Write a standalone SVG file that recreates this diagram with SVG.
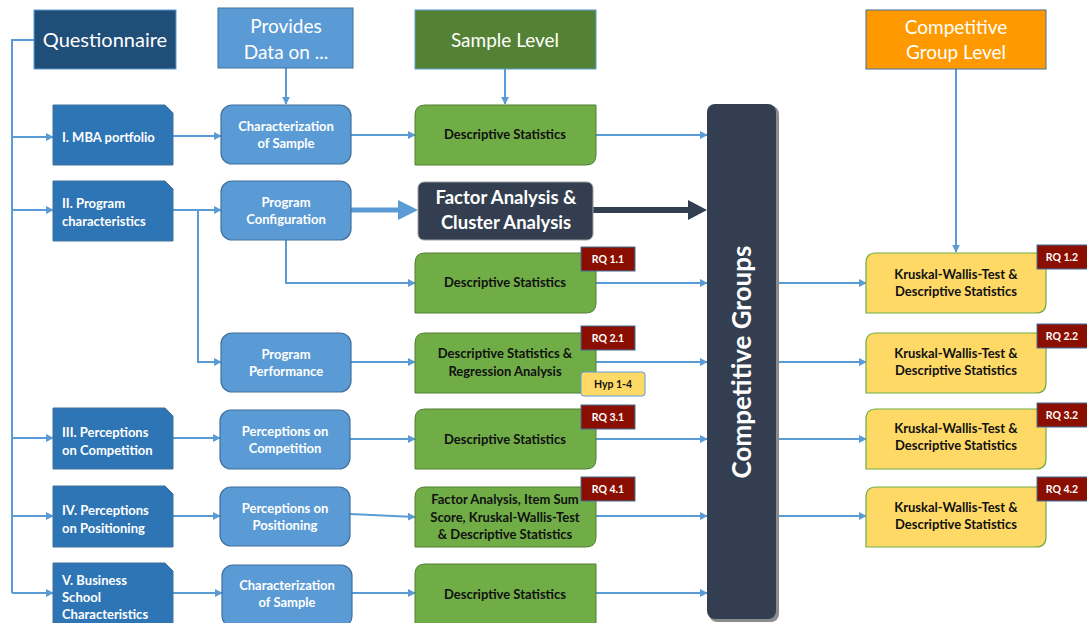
<svg xmlns="http://www.w3.org/2000/svg" width="1087" height="623" viewBox="0 0 1087 623">
  <style>
    .hdr { font-family: Lato, "Liberation Sans", sans-serif; font-size: 20px; fill: #ffffff; text-anchor: middle; }
    .q { fill: #2e75b6; stroke: #41719c; stroke-width: 1; }
    .qt { font-family: Lato, "Liberation Sans", sans-serif; font-size: 13px; font-weight: bold; fill: #ffffff; }
    .mid { fill: #5b9bd5; stroke: #41719c; stroke-width: 1.2; }
    .mt { font-family: Lato, "Liberation Sans", sans-serif; font-size: 13px; font-weight: bold; fill: #ffffff; text-anchor: middle; }
    .grn { fill: #70ad47; stroke: #507e32; stroke-width: 1; }
    .ylw { fill: #ffd966; stroke: #70ad47; stroke-width: 1.2; }
    .bt { font-family: Lato, "Liberation Sans", sans-serif; font-size: 13px; font-weight: bold; fill: #111111; text-anchor: middle; }
    .rq { fill: #8b0f00; stroke: #41719c; stroke-width: 1; }
    .rqt { font-family: Lato, "Liberation Sans", sans-serif; font-size: 10.5px; font-weight: bold; fill: #ffffff; text-anchor: middle; }
    .hyp { fill: #ffd966; stroke: #5b9bd5; stroke-width: 1; }
    .hypt { font-family: Lato, "Liberation Sans", sans-serif; font-size: 10.5px; font-weight: bold; fill: #111111; text-anchor: middle; }
    .ln { fill: none; stroke: #5b9bd5; stroke-width: 2; }
    .arr { fill: none; stroke: #5b9bd5; stroke-width: 2; marker-end: url(#ah); }
  </style>
  <defs>
    <marker id="ah" viewBox="0 0 10 10" refX="9" refY="5" markerWidth="4" markerHeight="4" orient="auto" markerUnits="strokeWidth">
      <path d="M0,0 L10,5 L0,10 z" fill="#5b9bd5"/>
    </marker>
  </defs>

  <rect width="1087" height="623" fill="#ffffff"/>

  <!-- connectors -->
  <g id="connectors">
    <!-- questionnaire trunk -->
    <path class="ln" d="M34,40 H12 V593"/>
    <path class="arr" d="M12,137 H53"/>
    <path class="arr" d="M12,210 H53"/>
    <path class="arr" d="M12,438 H53"/>
    <path class="arr" d="M12,516 H53"/>
    <path class="arr" d="M12,593 H53"/>
    <!-- questionnaire sections to data areas -->
    <path class="arr" d="M173,136 H221"/>
    <path class="arr" d="M173,210 H221"/>
    <path class="arr" d="M198,210 V362 H221"/>
    <path class="arr" d="M173,438 H220"/>
    <path class="arr" d="M173,516 H220"/>
    <path class="arr" d="M173,593 H222"/>
    <!-- header drop lines -->
    <path class="arr" d="M286,68 V104"/>
    <path class="arr" d="M505,69 V104"/>
    <path class="arr" d="M956,69 V252"/>
    <!-- data areas to analyses -->
    <path class="arr" d="M351,135 H415"/>
    <path class="arr" d="M286,240 V283 H415"/>
    <path class="arr" d="M351,362 H415"/>
    <path class="arr" d="M350,439 H415"/>
    <path class="arr" d="M350,514 L415,517"/>
    <path class="arr" d="M352,593 H415"/>
    <!-- thick arrow into factor/cluster analysis -->
    <path d="M351,210 H400" stroke="#5b9bd5" stroke-width="5" fill="none"/>
    <path d="M398,200 L418,210 L398,220 z" fill="#5b9bd5"/>
    <!-- analyses to competitive groups -->
    <path class="arr" d="M596,135 H707"/>
    <path class="arr" d="M596,283 H707"/>
    <path class="arr" d="M596,362 H707"/>
    <path class="arr" d="M596,439 H707"/>
    <path class="arr" d="M596,516 H707"/>
    <path class="arr" d="M596,593 H707"/>
    <!-- thick dark arrow from cluster analysis -->
    <path d="M593,210 H690" stroke="#333f50" stroke-width="6" fill="none"/>
    <path d="M688,200 L707,210 L688,220 z" fill="#333f50"/>
    <!-- competitive groups to group-level tests -->
    <path class="arr" d="M777,283 H866"/>
    <path class="arr" d="M777,362 H866"/>
    <path class="arr" d="M777,439 H866"/>
    <path class="arr" d="M777,516 H866"/>
  </g>

  <!-- column headers -->
  <g id="questionnaire">
    <rect x="34" y="10" width="142" height="59" fill="#1f4e79" stroke="#5b9bd5" stroke-width="1"/>
    <text class="hdr" x="105" y="47">Questionnaire</text>
  </g>
  <g id="provides-data">
    <rect x="218" y="8" width="135" height="60" fill="#5b9bd5" stroke="#41719c" stroke-width="1"/>
    <text class="hdr" x="286" y="33" style="font-size:19px">Provides</text>
    <text class="hdr" x="286" y="59" style="font-size:19px">Data on ...</text>
  </g>
  <g id="sample-level">
    <rect x="415" y="10" width="181" height="59" fill="#548235" stroke="#5b9bd5" stroke-width="1"/>
    <text class="hdr" x="505" y="47" style="font-size:19px">Sample Level</text>
  </g>
  <g id="group-level">
    <rect x="866" y="10" width="180" height="59" fill="#fe9900" stroke="#41719c" stroke-width="1"/>
    <text class="hdr" x="956" y="34" style="font-size:19px">Competitive</text>
    <text class="hdr" x="956" y="59" style="font-size:19px">Group Level</text>
  </g>

  <!-- questionnaire sections -->
  <g id="sec-1">
    <path class="q" d="M53,105 H165 L173,113 V165 H53 z"/>
    <text class="qt" x="62" y="142">I. MBA portfolio</text>
  </g>
  <g id="sec-2">
    <path class="q" d="M53,181 H165 L173,189 V241 H53 z"/>
    <text class="qt" x="62" y="208">II. Program</text>
    <text class="qt" x="62" y="226">characteristics</text>
  </g>
  <g id="sec-3">
    <path class="q" d="M53,408 H165 L173,416 V469 H53 z"/>
    <text class="qt" x="62" y="437">III. Perceptions</text>
    <text class="qt" x="62" y="455">on Competition</text>
  </g>
  <g id="sec-4">
    <path class="q" d="M53,486 H165 L173,494 V547 H53 z"/>
    <text class="qt" x="62" y="515">IV. Perceptions</text>
    <text class="qt" x="62" y="533">on Positioning</text>
  </g>
  <g id="sec-5">
    <path class="q" d="M53,563 H165 L173,571 V630 H53 z"/>
    <text class="qt" x="62" y="585">V. Business</text>
    <text class="qt" x="62" y="602">School</text>
    <text class="qt" x="62" y="619">Characteristics</text>
  </g>

  <!-- data areas -->
  <g id="data-sample-1">
    <rect class="mid" x="221" y="105" width="130" height="59" rx="11"/>
    <text class="mt" x="286" y="131">Characterization</text>
    <text class="mt" x="286" y="148">of Sample</text>
  </g>
  <g id="data-config">
    <rect class="mid" x="221" y="181" width="130" height="59" rx="11"/>
    <text class="mt" x="286" y="207">Program</text>
    <text class="mt" x="286" y="224">Configuration</text>
  </g>
  <g id="data-performance">
    <rect class="mid" x="221" y="333" width="130" height="59" rx="11"/>
    <text class="mt" x="286" y="359">Program</text>
    <text class="mt" x="286" y="376">Performance</text>
  </g>
  <g id="data-competition">
    <rect class="mid" x="220" y="410" width="130" height="59" rx="11"/>
    <text class="mt" x="285" y="436">Perceptions on</text>
    <text class="mt" x="285" y="453">Competition</text>
  </g>
  <g id="data-positioning">
    <rect class="mid" x="220" y="487" width="130" height="59" rx="11"/>
    <text class="mt" x="285" y="513">Perceptions on</text>
    <text class="mt" x="285" y="530">Positioning</text>
  </g>
  <g id="data-sample-2">
    <rect class="mid" x="222" y="565" width="130" height="62" rx="11"/>
    <text class="mt" x="287" y="590">Characterization</text>
    <text class="mt" x="287" y="607">of Sample</text>
  </g>

  <!-- sample level analyses -->
  <g id="ana-1">
    <path class="grn" d="M425,105 H596 V155 Q596,165 586,165 H415 V115 Q415,105 425,105 z"/>
    <text class="bt" x="505" y="139">Descriptive Statistics</text>
  </g>
  <g id="ana-cluster">
    <rect x="418" y="182" width="175" height="58" rx="6" fill="#333f50" stroke="#a0a0a0" stroke-width="1"/>
    <text x="506" y="204" style="font-family:Lato,'Liberation Sans',sans-serif;font-size:18.5px;font-weight:bold;fill:#ffffff;text-anchor:middle">Factor Analysis &amp;</text>
    <text x="506" y="229" style="font-family:Lato,'Liberation Sans',sans-serif;font-size:18.5px;font-weight:bold;fill:#ffffff;text-anchor:middle">Cluster Analysis</text>
  </g>
  <g id="ana-2">
    <path class="grn" d="M425,253 H596 V303 Q596,313 586,313 H415 V263 Q415,253 425,253 z"/>
    <text class="bt" x="505" y="287">Descriptive Statistics</text>
    <rect class="rq" x="581" y="247" width="54" height="24"/>
    <text class="rqt" x="608" y="263">RQ 1.1</text>
  </g>
  <g id="ana-3">
    <path class="grn" d="M425,333 H596 V383 Q596,393 586,393 H415 V343 Q415,333 425,333 z"/>
    <text class="bt" x="505" y="358">Descriptive Statistics &amp;</text>
    <text class="bt" x="505" y="376">Regression Analysis</text>
    <rect class="rq" x="581" y="326" width="54" height="24"/>
    <text class="rqt" x="608" y="342">RQ 2.1</text>
    <rect class="hyp" x="581" y="372" width="64" height="24" rx="3"/>
    <text class="hypt" x="613" y="388">Hyp 1-4</text>
  </g>
  <g id="ana-4">
    <path class="grn" d="M425,409 H596 V459 Q596,469 586,469 H415 V419 Q415,409 425,409 z"/>
    <text class="bt" x="505" y="444">Descriptive Statistics</text>
    <rect class="rq" x="581" y="405" width="54" height="24"/>
    <text class="rqt" x="608" y="421">RQ 3.1</text>
  </g>
  <g id="ana-5">
    <path class="grn" d="M425,487 H596 V537 Q596,547 586,547 H415 V497 Q415,487 425,487 z"/>
    <text class="bt" x="505" y="504">Factor Analysis, Item Sum</text>
    <text class="bt" x="505" y="522">Score, Kruskal-Wallis-Test</text>
    <text class="bt" x="505" y="539">&amp; Descriptive Statistics</text>
    <rect class="rq" x="581" y="477" width="54" height="24"/>
    <text class="rqt" x="608" y="493">RQ 4.1</text>
  </g>
  <g id="ana-6">
    <path class="grn" d="M425,564 H596 V630 H415 V574 Q415,564 425,564 z"/>
    <text class="bt" x="505" y="599">Descriptive Statistics</text>
  </g>

  <!-- competitive groups -->
  <g id="competitive-groups">
    <rect x="709" y="106" width="70" height="516" rx="8" fill="#8c8c8c"/>
    <rect x="707" y="104" width="69" height="515" rx="8" fill="#333f50"/>
    <text transform="translate(751,362) rotate(-90)" style="font-family:Lato,'Liberation Sans',sans-serif;font-size:26px;font-weight:bold;fill:#ffffff;text-anchor:middle">Competitive Groups</text>
  </g>

  <!-- group level analyses -->
  <g id="grp-1">
    <path class="ylw" d="M876,253 H1046 V303 Q1046,313 1036,313 H866 V263 Q866,253 876,253 z"/>
    <text class="bt" x="956" y="279">Kruskal-Wallis-Test &amp;</text>
    <text class="bt" x="956" y="296">Descriptive Statistics</text>
    <rect class="rq" x="1037" y="245" width="52" height="24"/>
    <text class="rqt" x="1062" y="261">RQ 1.2</text>
  </g>
  <g id="grp-2">
    <path class="ylw" d="M876,333 H1046 V383 Q1046,393 1036,393 H866 V343 Q866,333 876,333 z"/>
    <text class="bt" x="956" y="358">Kruskal-Wallis-Test &amp;</text>
    <text class="bt" x="956" y="375">Descriptive Statistics</text>
    <rect class="rq" x="1037" y="324" width="52" height="24"/>
    <text class="rqt" x="1062" y="340">RQ 2.2</text>
  </g>
  <g id="grp-3">
    <path class="ylw" d="M876,409 H1046 V459 Q1046,469 1036,469 H866 V419 Q866,409 876,409 z"/>
    <text class="bt" x="956" y="433">Kruskal-Wallis-Test &amp;</text>
    <text class="bt" x="956" y="450">Descriptive Statistics</text>
    <rect class="rq" x="1037" y="403" width="52" height="24"/>
    <text class="rqt" x="1062" y="419">RQ 3.2</text>
  </g>
  <g id="grp-4">
    <path class="ylw" d="M876,487 H1046 V537 Q1046,547 1036,547 H866 V497 Q866,487 876,487 z"/>
    <text class="bt" x="956" y="512">Kruskal-Wallis-Test &amp;</text>
    <text class="bt" x="956" y="529">Descriptive Statistics</text>
    <rect class="rq" x="1037" y="477" width="52" height="24"/>
    <text class="rqt" x="1062" y="493">RQ 4.2</text>
  </g>
</svg>
